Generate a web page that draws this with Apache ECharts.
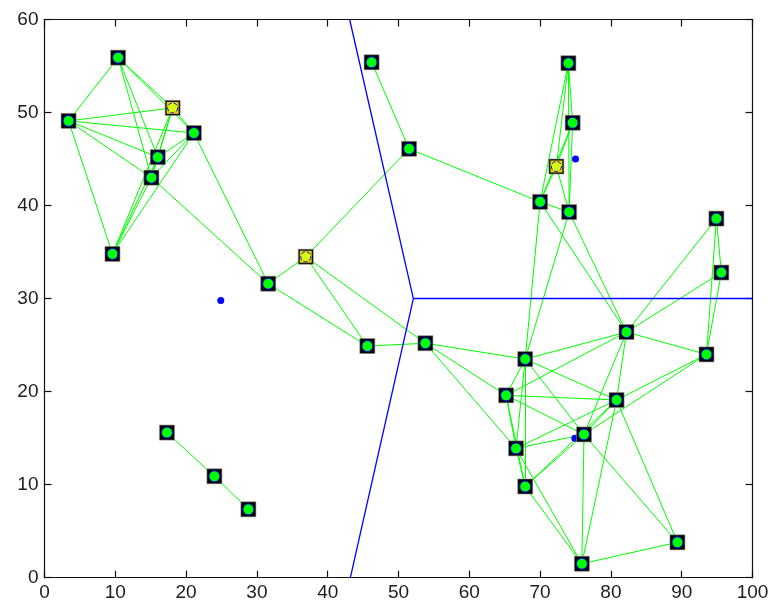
<!DOCTYPE html>
<html>
<head>
<meta charset="utf-8">
<script src="https://cdn.jsdelivr.net/npm/echarts@6/dist/echarts.min.js"></script>
<style>
  html, body { margin: 0; padding: 0; background: #fff; }
  #chart { width: 775px; height: 614px; }
</style>
</head>
<body>
<div id="chart"></div>
<script>
// Sensor node positions
const nodeX = [3.4, 10.4, 18.1, 21.1, 16.0, 15.1, 9.6, 31.6, 36.9, 46.2, 51.5, 45.6, 53.8,
               70.0, 72.3, 74.0, 74.6, 74.1, 94.9, 95.6, 82.2, 93.5, 67.9, 65.2, 80.8,
               76.2, 66.6, 67.9, 75.9, 89.4, 17.3, 24.0, 28.8];
const nodeY = [49.1, 55.9, 50.5, 47.8, 45.2, 43.0, 34.8, 31.6, 34.5, 55.4, 46.1, 24.9, 25.2,
               40.4, 44.2, 55.3, 48.9, 39.3, 38.6, 32.8, 26.4, 24.0, 23.5, 19.6, 19.1,
               15.4, 13.9, 9.8, 1.5, 3.8, 15.6, 10.9, 7.35];
// Cluster heads (highlighted nodes)
const headIdx = [2, 8, 14];
// Links between nodes (index pairs)
const links = [
  [0,1],[0,2],[0,3],[0,4],[0,5],[0,6],[1,2],[1,3],[1,4],[1,5],[2,3],[2,4],[2,5],[2,6],
  [3,4],[3,5],[3,6],[4,5],[4,6],[5,6],[3,7],[5,7],
  [7,8],[7,11],[8,10],[8,11],[8,12],[9,10],[10,13],[11,12],[12,22],[12,23],[12,26],
  [13,14],[13,15],[13,16],[13,17],[14,15],[14,16],[14,17],[15,16],[15,17],[16,17],
  [13,20],[17,20],[13,22],[17,22],
  [18,19],[18,20],[18,21],[19,20],[19,21],[20,21],[20,22],[20,23],[20,24],[20,25],
  [21,24],[21,25],
  [22,23],[22,24],[22,25],[22,26],[22,27],[23,24],[23,25],[23,26],[23,27],[24,25],
  [24,26],[24,27],[24,28],[24,29],[25,26],[25,27],[25,28],[25,29],[26,27],[26,28],
  [27,28],[28,29],
  [30,31],[31,32]
];
// Cluster centroids
const centX = [24.9, 75.0, 74.9];
const centY = [29.8, 45.0, 15.0];
// Voronoi boundaries between the centroids
const voronoiEdges = [
  [[52.1, 30.0], [43.1, 60.0]],
  [[52.1, 30.0], [43.2, 0.0]],
  [[52.1, 30.0], [100.0, 30.0]]
];
// Axis ranges and tick steps
const xRange = [0, 100], xStep = 10;
const yRange = [0, 60], yStep = 10;

const nodePts = nodeX.map((x, i) => [x, nodeY[i]]);
const headPts = headIdx.map(i => nodePts[i]);
const plainPts = nodePts.filter((p, i) => headIdx.indexOf(i) < 0);
const linkData = links.map(([a, b]) => ({ coords: [nodePts[a], nodePts[b]] }));
const vorData = voronoiEdges.map(seg => ({ coords: seg }));
const centPts = centX.map((x, i) => [x, centY[i]]);

const axisCommon = {
  type: 'value',
  axisLine: { show: true, onZero: false, lineStyle: { color: '#111', width: 1.2 } },
  axisTick: { show: true, inside: true, length: 7, lineStyle: { color: '#111', width: 1.2 } },
  splitLine: { show: false },
  axisLabel: { fontFamily: 'Liberation Sans, Arial, sans-serif', fontSize: 19, color: '#1c1c1c' }
};

const chart = echarts.init(document.getElementById('chart'), null, { renderer: 'canvas' });
chart.setOption({
  animation: false,
  backgroundColor: '#ffffff',
  grid: { left: 44.5, right: 22.5, top: 19.5, bottom: 36.3, containLabel: false },
  xAxis: [
    Object.assign({}, axisCommon, { min: xRange[0], max: xRange[1], interval: xStep, position: 'bottom',
      axisLabel: Object.assign({}, axisCommon.axisLabel, { margin: 6 }) }),
    Object.assign({}, axisCommon, { min: xRange[0], max: xRange[1], interval: xStep, position: 'top',
      axisLabel: { show: false } })
  ],
  yAxis: [
    Object.assign({}, axisCommon, { min: yRange[0], max: yRange[1], interval: yStep, position: 'left',
      axisLabel: Object.assign({}, axisCommon.axisLabel, { margin: 6 }) }),
    Object.assign({}, axisCommon, { min: yRange[0], max: yRange[1], interval: yStep, position: 'right',
      axisLabel: { show: false } })
  ],
  series: [
    {
      type: 'lines', coordinateSystem: 'cartesian2d', xAxisIndex: 0, yAxisIndex: 0,
      data: linkData, silent: true, z: 2,
      lineStyle: { color: '#00ff00', width: 1, opacity: 1 }
    },
    {
      type: 'lines', coordinateSystem: 'cartesian2d', xAxisIndex: 0, yAxisIndex: 0,
      data: vorData, silent: true, z: 3,
      lineStyle: { color: '#0000ff', width: 1.3, opacity: 1 }
    },
    {
      type: 'scatter', xAxisIndex: 0, yAxisIndex: 0, data: centPts, z: 4, silent: true,
      symbol: 'circle', symbolSize: 7, itemStyle: { color: '#0000ff', opacity: 1 }
    },
    {
      type: 'scatter', xAxisIndex: 0, yAxisIndex: 0, data: nodePts, z: 5, silent: true,
      symbol: 'rect', symbolSize: 15,
      itemStyle: { color: '#000000', borderColor: '#8a8a8a', borderWidth: 0.6, opacity: 1 }
    },
    {
      type: 'scatter', xAxisIndex: 0, yAxisIndex: 0, data: headPts, z: 6, silent: true,
      symbol: 'rect', symbolSize: 12,
      itemStyle: { color: '#e6d200', opacity: 1 }
    },
    {
      type: 'scatter', xAxisIndex: 0, yAxisIndex: 0, data: plainPts, z: 7, silent: true,
      symbol: 'circle', symbolSize: 11,
      itemStyle: { color: '#00ff00', borderColor: '#0000ff', borderWidth: 1, opacity: 1 }
    },
    {
      type: 'scatter', xAxisIndex: 0, yAxisIndex: 0, data: headPts, z: 7, silent: true,
      symbol: 'circle', symbolSize: 10,
      itemStyle: { color: '#d8ff10', borderColor: '#0000ff', borderWidth: 1, borderType: 'dashed', opacity: 1 }
    }
  ]
});
</script>
</body>
</html>
